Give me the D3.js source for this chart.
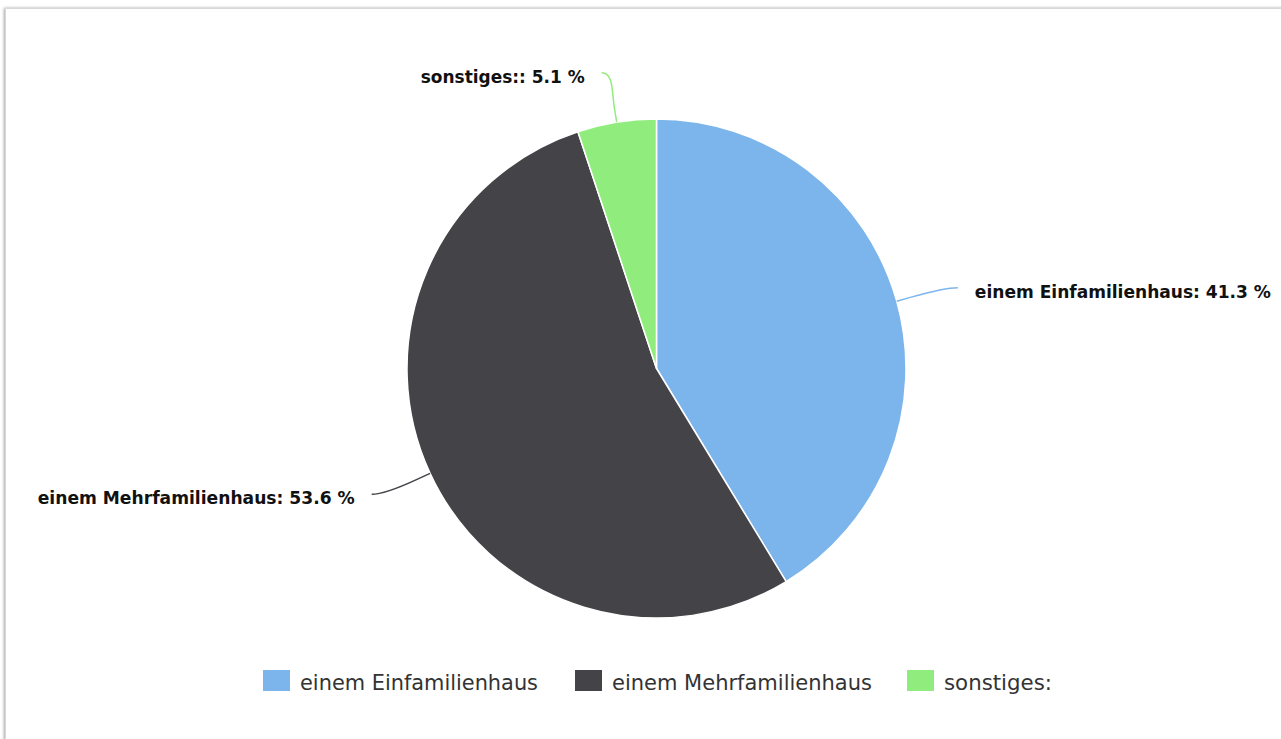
<!DOCTYPE html>
<html><head><meta charset="utf-8">
<script src="https://cdn.jsdelivr.net/npm/d3@7"></script>
<style>
html,body{margin:0;padding:0;background:#fff;overflow:hidden}
text{font-family:"DejaVu Sans Condensed","DejaVu Sans","Liberation Sans",sans-serif}
</style></head>
<body><svg id="c" width="1281" height="739"></svg>
<script>
const categories = ["einem Einfamilienhaus", "einem Mehrfamilienhaus", "sonstiges:"];
const values = [41.3, 53.6, 5.1];
const colors = ["#7cb5ec", "#434348", "#90ed7d"];
const labelTexts = ["einem Einfamilienhaus: 41.3 %", "einem Mehrfamilienhaus: 53.6 %", "sonstiges:: 5.1 %"];

const W = 1281, H = 739;
const svg = d3.select("#c");
const defs = svg.append("defs");
const f = defs.append("filter").attr("id","sh").attr("x","-5%").attr("y","-5%").attr("width","110%").attr("height","110%");
f.append("feDropShadow").attr("dx",-1).attr("dy",0).attr("stdDeviation",1.5).attr("flood-color","#000").attr("flood-opacity",0.35);

// frame
svg.append("rect").attr("x",5.5).attr("y",8.5).attr("width",W+20).attr("height",H+20)
  .attr("fill","#fff").attr("stroke","#d8d8d8").attr("stroke-width",1).attr("filter","url(#sh)");

const cx = 656.5, cy = 368.5, r = 249.5, dist = 50;
const data = categories.map((c,i)=>({name:c, value:values[i], color:colors[i], label:labelTexts[i]}));
const pie = d3.pie().value(d=>d.value).sort(null);
const arcs = pie(data);
const arc = d3.arc().innerRadius(0).outerRadius(r);
const g = svg.append("g").attr("transform",`translate(${cx},${cy})`);
g.selectAll("path.s").data(arcs).join("path").attr("class","s")
  .attr("d",arc).attr("fill",d=>d.data.color).attr("stroke","#fff").attr("stroke-width",1.5).attr("stroke-linejoin","round");

// labels
const labelWidths = [296, 317, 164];
const labelOffsets = [13, 13, 7];
const R = r + dist;
arcs.forEach((a,i)=>{
  const m = (a.startAngle + a.endAngle)/2;
  const sx = Math.sin(m), sy = -Math.cos(m);
  const right = sx >= 0;
  const sign = right ? 1 : -1;
  const ly = R*sy;
  const lx = sign*(Math.sqrt(Math.max(R*R - ly*ly,0)) + labelOffsets[i]);
  const edge = [r*sx, r*sy];
  const mid = [(r+15)*sx, (r+15)*sy];
  const c2 = [(r+30)*sx, (r+30)*sy];
  const c1 = [lx - sign*12, ly];
  const p = d3.path();
  p.moveTo(lx, ly);
  p.bezierCurveTo(c1[0],c1[1],c2[0],c2[1],mid[0],mid[1]);
  p.lineTo(edge[0],edge[1]);
  g.append("path").attr("d",p.toString()).attr("fill","none").attr("stroke",a.data.color).attr("stroke-width",1.5);
  g.append("text").attr("x", lx + sign*17).attr("y", ly+10)
    .attr("text-anchor", right ? "start" : "end")
    .attr("font-size",18).attr("font-weight","bold").attr("fill","#111")
    .attr("textLength",labelWidths[i]).attr("lengthAdjust","spacingAndGlyphs")
    .text(a.data.label);
});

// legend
const legX = [263, 575, 907];
const legW = [238, 260, 108];
const lg = svg.append("g");
data.forEach((d,i)=>{
  lg.append("rect").attr("x",legX[i]).attr("y",670).attr("width",27).attr("height",21).attr("fill",d.color);
  lg.append("text").attr("x",legX[i]+37).attr("y",690).attr("font-size",21).attr("fill","#333")
    .attr("textLength",legW[i]).attr("lengthAdjust","spacingAndGlyphs").text(d.name);
});
</script></body></html>
